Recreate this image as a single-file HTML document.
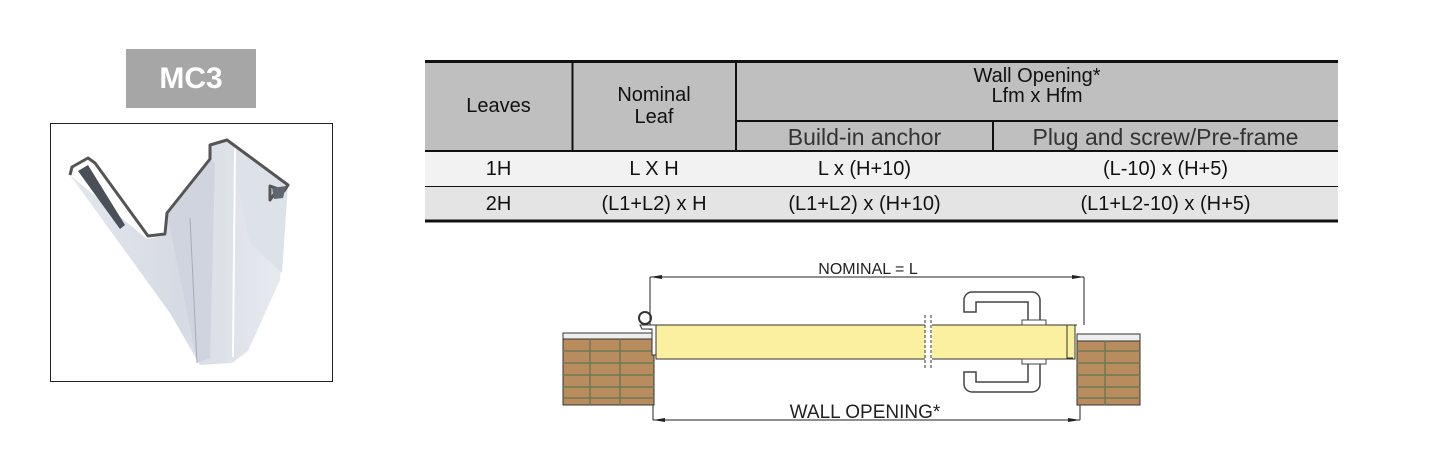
<!DOCTYPE html>
<html><head><style>
body{margin:0;width:1455px;height:472px;background:#fff;position:relative;overflow:hidden;font-family:"Liberation Sans",sans-serif}
.t{position:absolute;font-family:"Liberation Sans Narrow","Liberation Sans",sans-serif;font-size:20px;color:#111;text-align:center}
</style></head><body>
<div style="position:absolute;left:126px;top:49px;width:130px;height:59px;background:#a6a6a6;color:#fff;font-size:30px;font-weight:bold;text-align:center;line-height:59px">MC3</div>
<div style="position:absolute;left:50px;top:123px;width:281px;height:257px;border:1px solid #222"></div>
<svg style="position:absolute;left:50px;top:123px" width="283" height="259">
<defs><linearGradient id="g" x1="0" x2="1"><stop offset="0" stop-color="#e4e7ee"/><stop offset="0.5" stop-color="#d6dae3"/><stop offset="1" stop-color="#e8ebf0"/></linearGradient></defs>
<polygon points="20,52 97,116 117,112 117,90 160,36 160,22 177,17 238,62 230,157 198,228 182,240 150,242 120,190" fill="url(#g)"/>
<polygon points="117,90 160,36 165,40 160,235 147,240" fill="#cfd4de"/>
<polygon points="177,17 238,62 232,150 200,120" fill="#dde1e8"/>
<line x1="140" y1="95" x2="147" y2="240" stroke="#aab" stroke-width="1"/>
<line x1="185" y1="25" x2="183" y2="234" stroke="#fff" stroke-width="2"/>
<path d="M20,52 L22,44 L38,35 L45,40 L98,113 L115,111 L117,90 L160,36 L160,22 L177,17 L238,62 L234,68 L220,63 L220,77 L225,70" fill="none" stroke="#555" stroke-width="3" stroke-linejoin="round"/>
<polygon points="28,48 38,42 75,102 70,106" fill="#4a4f58"/>
<polygon points="222,65 236,63 233,75 224,76" fill="#606670"/>
</svg>
<svg style="position:absolute;left:0;top:0" width="1455" height="472">
<rect x="425" y="61" width="913" height="90" fill="#bfbfbf"/>
<rect x="425" y="151" width="913" height="35" fill="#f2f2f2"/>
<rect x="425" y="187" width="913" height="33" fill="#e4e4e4"/>
<line x1="425" y1="61.5" x2="1338" y2="61.5" stroke="#111" stroke-width="3"/>
<line x1="425" y1="151" x2="1338" y2="151" stroke="#111" stroke-width="2"/>
<line x1="425" y1="186.5" x2="1338" y2="186.5" stroke="#111" stroke-width="1"/>
<line x1="425" y1="221" x2="1338" y2="221" stroke="#111" stroke-width="3"/>
<line x1="736" y1="121" x2="1338" y2="121" stroke="#111" stroke-width="2"/>
<line x1="572.5" y1="61" x2="572.5" y2="151" stroke="#111" stroke-width="2"/>
<line x1="736" y1="61" x2="736" y2="151" stroke="#111" stroke-width="2"/>
<line x1="993" y1="121" x2="993" y2="151" stroke="#111" stroke-width="2"/>
<g stroke="#222" stroke-width="1" fill="none">
<line x1="650" y1="277" x2="1084" y2="277"/><line x1="650" y1="277" x2="650" y2="330"/><line x1="1084" y1="277" x2="1084" y2="325"/>
<line x1="653" y1="420" x2="1080" y2="420"/><line x1="653" y1="405" x2="653" y2="420"/><line x1="1080" y1="405" x2="1080" y2="420"/>
</g>
<polygon points="650,277 662,275 662,279" fill="#222"/><polygon points="1084,277 1072,275 1072,279" fill="#222"/>
<polygon points="653,420 665,418 665,422" fill="#222"/><polygon points="1080,420 1068,418 1068,422" fill="#222"/>
<text x="868" y="274" font-size="16" text-anchor="middle" fill="#222">NOMINAL = L</text>
<text x="865" y="418" font-size="19" text-anchor="middle" fill="#222">WALL OPENING*</text>
<rect x="563" y="333" width="91" height="72" fill="#b88c5c" stroke="#333"/>
<rect x="563" y="333" width="91" height="6" fill="#eee" stroke="#333"/>
<rect x="1077" y="341" width="63" height="64" fill="#b88c5c" stroke="#333"/>
<rect x="1077" y="334" width="63" height="7" fill="#eee" stroke="#333"/>
<g stroke="#6d7a55" stroke-width="1.5">
<line x1="563" y1="351" x2="654" y2="351"/><line x1="563" y1="363" x2="654" y2="363"/><line x1="563" y1="375" x2="654" y2="375"/><line x1="563" y1="387" x2="654" y2="387"/><line x1="563" y1="398" x2="654" y2="398"/>
<line x1="1077" y1="351" x2="1140" y2="351"/><line x1="1077" y1="363" x2="1140" y2="363"/><line x1="1077" y1="375" x2="1140" y2="375"/><line x1="1077" y1="387" x2="1140" y2="387"/><line x1="1077" y1="398" x2="1140" y2="398"/>
<line x1="590" y1="339" x2="590" y2="405"/><line x1="620" y1="339" x2="620" y2="405"/><line x1="1105" y1="341" x2="1105" y2="405"/>
</g>
<rect x="656" y="325" width="419" height="34" fill="#faf0a0" stroke="#333"/>
<rect x="925" y="315" width="7" height="55" fill="#fff"/>
<line x1="925" y1="315" x2="925" y2="370" stroke="#333" stroke-dasharray="3,2"/><line x1="931" y1="315" x2="931" y2="370" stroke="#333" stroke-dasharray="3,2"/>
<circle cx="645" cy="318" r="6" fill="none" stroke="#333" stroke-width="2"/>
<path d="M640,325 h16 v30 h-4 v-26 h-10z" fill="#fff" stroke="#333"/>
<path d="M1077,325 h-10 v33 h6" fill="none" stroke="#333"/>
<path d="M1040,322 V300 a8,8 0 0 0 -8,-8 H972 a8,8 0 0 0 -8,8 V312 h12 v-10 h52 v20 z" fill="#fff" stroke="#444" stroke-width="1.5"/>
<path d="M1040,362 V384 a8,8 0 0 1 -8,8 H972 a8,8 0 0 1 -8,-8 V372 h12 v10 h52 v-20 z" fill="#fff" stroke="#444" stroke-width="1.5"/>
<rect x="1022" y="320" width="24" height="5" fill="#fff" stroke="#444"/>
<rect x="1022" y="359" width="24" height="5" fill="#fff" stroke="#444"/>
</svg>
<div class="t" style="left:425px;top:95px;width:147px">Leaves</div>
<div class="t" style="left:572px;top:84px;width:164px;line-height:22px">Nominal<br>Leaf</div>
<div class="t" style="left:736px;top:66px;width:602px;line-height:20px">Wall Opening*<br>Lfm x Hfm</div>
<div class="t" style="left:736px;top:124px;width:257px;font-size:23px;color:#333">Build-in anchor</div>
<div class="t" style="left:993px;top:124px;width:345px;font-size:23px;color:#333">Plug and screw/Pre-frame</div>
<div class="t" style="left:425px;top:158px;width:147px">1H</div>
<div class="t" style="left:572px;top:158px;width:164px">L X H</div>
<div class="t" style="left:736px;top:158px;width:257px">L x (H+10)</div>
<div class="t" style="left:993px;top:158px;width:345px">(L-10) x (H+5)</div>
<div class="t" style="left:425px;top:193px;width:147px">2H</div>
<div class="t" style="left:572px;top:193px;width:164px">(L1+L2) x H</div>
<div class="t" style="left:736px;top:193px;width:257px">(L1+L2) x (H+10)</div>
<div class="t" style="left:993px;top:193px;width:345px">(L1+L2-10) x (H+5)</div>
</body></html>
